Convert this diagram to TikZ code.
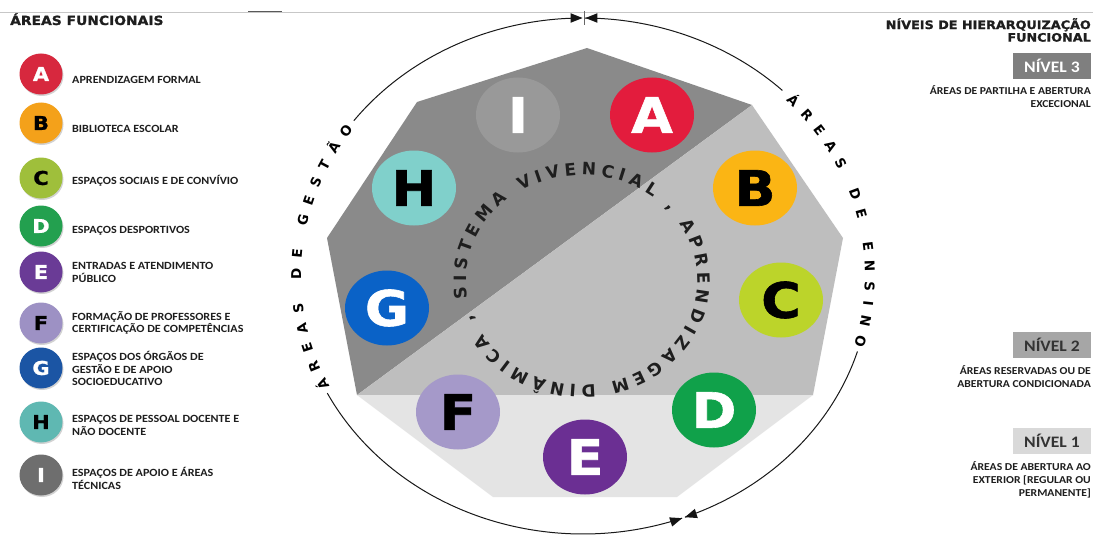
\documentclass[tikz,border=0pt]{standalone}
\usepackage{fontspec}
\setmainfont{Carlito}
\newfontfamily\dvs{DejaVu Sans}
\newfontfamily\dvsx[FakeStretch=1.1]{DejaVu Sans}
\newfontfamily\dvsh[FakeStretch=1.1,FakeBold=1.2]{DejaVu Sans}
\newfontfamily\calx[FakeStretch=1.1]{Carlito}
\usetikzlibrary{shapes.geometric,decorations.text,arrows.meta,shadows}
\definecolor{polydark}{HTML}{8A8A8A}
\definecolor{polymid}{HTML}{BEBEBE}
\definecolor{polylight}{HTML}{E4E4E4}
\definecolor{inktext}{HTML}{1E1E1E}
\definecolor{cA}{HTML}{E31C3D}
\definecolor{cB}{HTML}{FBB514}
\definecolor{cC}{HTML}{BCD42A}
\definecolor{cD}{HTML}{10A14A}
\definecolor{cE}{HTML}{6B2F93}
\definecolor{cF}{HTML}{A599C9}
\definecolor{cG}{HTML}{0A62C7}
\definecolor{cH}{HTML}{80D0CB}
\definecolor{cI}{HTML}{999999}
\definecolor{lA}{HTML}{D7283E}
\definecolor{lB}{HTML}{F4A11A}
\definecolor{lC}{HTML}{9FBF3B}
\definecolor{lD}{HTML}{23A04F}
\definecolor{lE}{HTML}{6A3B96}
\definecolor{lF}{HTML}{9D91C4}
\definecolor{lG}{HTML}{1B55A4}
\definecolor{lH}{HTML}{5FB8B2}
\definecolor{lI}{HTML}{6E6E6E}
\definecolor{lvl3}{HTML}{7F7F7F}
\definecolor{lvl2}{HTML}{A6A6A6}
\definecolor{lvl1}{HTML}{D9D9D9}
\newcommand\ringtxt{\dvs\bfseries\fontsize{13.5}{13.5}\selectfont}
\newcommand\innertxt{\dvs\bfseries\fontsize{17}{17}\selectfont}
\begin{document}
\begin{tikzpicture}[x=1pt,y=-1pt,
  bigc/.style={ellipse,minimum width=84pt,minimum height=75pt,inner sep=0pt,
    font=\dvsh\bfseries\fontsize{49}{49}\selectfont},
  legc/.style={ellipse,minimum width=43pt,minimum height=41pt,inner sep=0pt,
    drop shadow={shadow xshift=1pt,shadow yshift=-1.5pt,opacity=0.35},
    font=\dvsh\bfseries\fontsize{19}{19}\selectfont},
  legt/.style={anchor=west,align=left,inner sep=0pt,text=inktext,
    font=\calx\bfseries\fontsize{11}{12.7}\selectfont},
  capt/.style={anchor=east,align=right,inner sep=0pt,text=inktext,
    font=\calx\bfseries\fontsize{10.6}{13}\selectfont},
  head/.style={inner sep=0pt,text=inktext,
    font=\dvsh\bfseries\fontsize{11.6}{12.6}\selectfont},
  lvlbox/.style={minimum width=78pt,minimum height=26pt,inner sep=0pt,
    font=\calx\bfseries\fontsize{16}{16}\selectfont},
  ring/.style={line width=1pt,draw=black!90},
  arrowhead/.style={fill=black!92}
]
\useasboundingbox (0,0) rectangle (1093,535);
\fill[white] (0,0) rectangle (1093,535);

% header rule
\draw[black!22,line width=0.8pt] (0,12) -- (1093,12);
\draw[black!65,line width=1pt] (248,12) -- (282,12);

% polygon
\coordinate (pT) at (587,48);
\coordinate (pTR) at (752,105);
\coordinate (pR) at (843,238);
\coordinate (pBR) at (813,395);
\coordinate (pB2) at (677,497);
\coordinate (pB1) at (493,497);
\coordinate (pBL) at (357,395);
\coordinate (pL) at (327,238);
\coordinate (pTL) at (417,102);
\fill[polydark] (pTR) -- (pT) -- (pTL) -- (pL) -- (pBL) -- cycle;
\fill[polymid] (pTR) -- (pR) -- (pBR) -- (pBL) -- cycle;
\fill[polylight] (pBR) -- (pB2) -- (pB1) -- (pBL) -- cycle;

% outer ring
\draw[ring] plot[domain=217:269.6,samples=70,variable=\t]
  ({583+287*cos(\t)},{276+258*sin(\t)});
\draw[ring] plot[domain=270.4:314,samples=70,variable=\t]
  ({583+287*cos(\t)},{276+258*sin(\t)});
\draw[ring] plot[domain=17:69.2,samples=70,variable=\t]
  ({583+287*cos(\t)},{276+258*sin(\t)});
\draw[ring] plot[domain=69.8:153,samples=90,variable=\t]
  ({583+287*cos(\t)},{276+258*sin(\t)});
% arrowheads meeting at the top and at the bottom
\coordinate (tipTL) at (582.6,18);
\coordinate (tipTR) at (585.4,18);
\coordinate (tipBL) at (682.1,518.2);
\coordinate (tipBR) at (684.9,517.2);
\fill[arrowhead,shift={(tipTL)},rotate=0] (0,0) -- (-12,-4.8) -- (-12,4.8) -- cycle;
\fill[arrowhead,shift={(tipTR)},rotate=180] (0,0) -- (-12,-4.8) -- (-12,4.8) -- cycle;
\fill[arrowhead,shift={(tipBL)},rotate=18.1] (0,0) -- (-12,-4.8) -- (-12,4.8) -- cycle;
\fill[arrowhead,shift={(tipBR)},rotate=198.1] (0,0) -- (-12,-4.8) -- (-12,4.8) -- cycle;
\coordinate (tickA) at (584,11);
\coordinate (tickB) at (584,25);
\draw[black!60,line width=0.5pt] (tickA) -- (tickB);

% ring texts
\path[decorate,decoration={text along path,text align={fit to path},
  text={|\ringtxt|ÁREAS DE GESTÃO}}]
  plot[domain=154:215.5,samples=80,variable=\t]
  ({583+282*cos(\t)},{276+253*sin(\t)});
\path[decorate,decoration={text along path,text align={fit to path},
  text={|\ringtxt|ÁREAS DE ENSINO}}]
  plot[domain=316:376,samples=80,variable=\t]
  ({583+282*cos(\t)},{276+253*sin(\t)});

% inner circular text
\path[decorate,decoration={text along path,text align={fit to path},text color=inktext,
  text={|\innertxt|SISTEMA VIVENCIAL {,} APRENDIZAGEM DINÂMICA {,}}}]
  plot[domain=170:521,samples=220,variable=\t]
  ({582+116*cos(\t)},{280+105*sin(\t)});

% functional area circles
\node[bigc,fill=cI,text=white] (I) at (518,115) {I};
\node[bigc,fill=cA,text=white] (A) at (652,115) {A};
\node[bigc,fill=cB,text=black] (B) at (755,188) {B};
\node[bigc,fill=cC,text=black] (C) at (781,300) {C};
\node[bigc,fill=cD,text=white] (D) at (714,410) {D};
\node[bigc,fill=cE,text=white] (E) at (585,457) {E};
\node[bigc,fill=cF,text=black] (F) at (458,412) {F};
\node[bigc,fill=cG,text=white] (G) at (387,308) {G};
\node[bigc,fill=cH,text=black] (H) at (414,188) {H};

% left legend
\node[head,anchor=base west,font=\dvsh\bfseries\fontsize{12.6}{13}\selectfont] (legtitle) at (10,25) {ÁREAS FUNCIONAIS};
\foreach \L/\cy/\ty/\tc/\txt in {
  A/74/79.8/white/{APRENDIZAGEM FORMAL},
  B/123/129.2/black/{BIBLIOTECA ESCOLAR},
  C/178/180.5/black/{ESPAÇOS SOCIAIS E DE CONVÍVIO},
  D/226/230.5/white/{ESPAÇOS DESPORTIVOS},
  E/272/272.6/white/{ENTRADAS E ATENDIMENTO\\PÚBLICO},
  F/323/323/black/{FORMAÇÃO DE PROFESSORES E\\CERTIFICAÇÃO DE COMPETÊNCIAS},
  G/368/368.5/white/{ESPAÇOS DOS ÓRGÃOS DE\\GESTÃO E DE APOIO\\SOCIOEDUCATIVO},
  H/422/425.7/black/{ESPAÇOS DE PESSOAL DOCENTE E\\NÃO DOCENTE},
  I/475/478.5/white/{ESPAÇOS DE APOIO E ÁREAS\\TÉCNICAS}}{
  \node[legc,fill=l\L,text=\tc] (leg\L) at (41,\cy) {\L};
  \node[legt] (legtxt\L) at (72,\ty) {\txt};
}

% right legend
\node[head,anchor=east,align=right] (rtitle) at (1091,30) {NÍVEIS DE HIERARQUIZAÇÃO\\FUNCIONAL};
\node[lvlbox,fill=lvl3,text=white] (n3) at (1052,66) {NÍVEL 3};
\node[capt] (c3) at (1091,97) {ÁREAS DE PARTILHA E ABERTURA\\EXCECIONAL};
\node[lvlbox,fill=lvl2,text=black!80] (n2) at (1052,345) {NÍVEL 2};
\node[capt] (c2) at (1091,377) {ÁREAS RESERVADAS OU DE\\ABERTURA CONDICIONADA};
\node[lvlbox,fill=lvl1,text=black!80] (n1) at (1052,441) {NÍVEL 1};
\node[capt] (c1) at (1091,480) {ÁREAS DE ABERTURA AO\\EXTERIOR [REGULAR OU\\PERMANENTE]};
\end{tikzpicture}
\end{document}
